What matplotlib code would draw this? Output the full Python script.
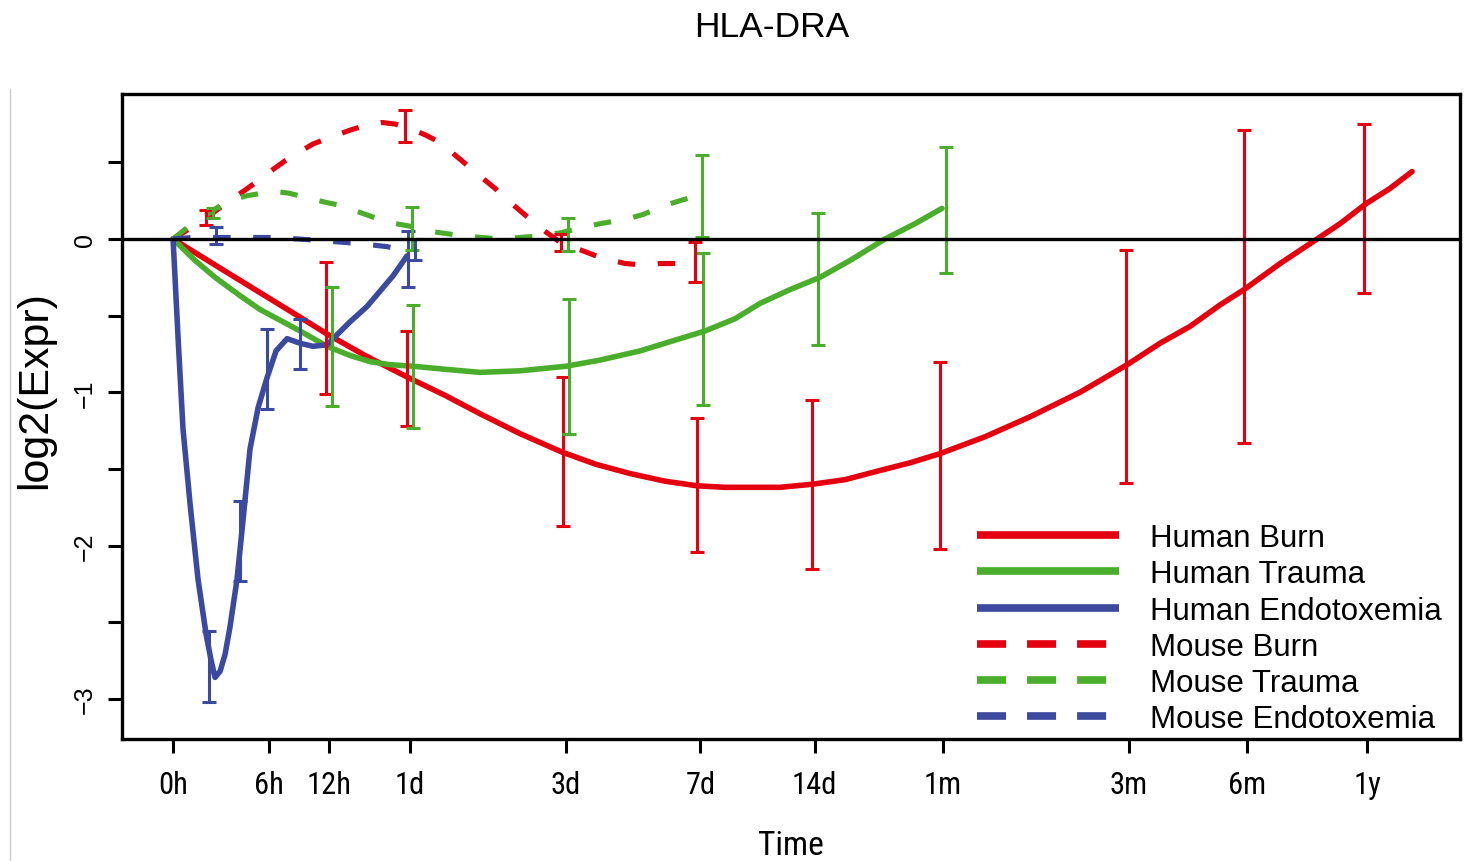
import numpy as np
import matplotlib
matplotlib.use('Agg')
import matplotlib.pyplot as plt
from matplotlib.lines import Line2D
from matplotlib.transforms import offset_copy

# x axis: time in hours, drawn on a log(1 + h/8) scale
tick_hours = [0, 6, 12, 24, 72, 168, 336, 720, 2160, 4320, 8760]
tick_labels = ['0h', '6h', '12h', '1d', '3d', '7d', '14d', '1m', '3m', '6m', '1y']

#fitted curves (hours, log2 expr)
hb_t = [0, 2.54, 5.32, 8.84, 11.73, 16.65, 23.53, 31.40, 40.37, 53.16, 70.2, 87.47, 108.5, 135.1, 164.6,
        195.4, 227.5, 272.8, 330.6, 402.9, 496.6, 593.5, 709.2, 925.6, 1207, 1621, 2139, 2597, 3097,
        3694, 4254, 5255, 6270, 7473, 8700, 10019, 11400]
hb_y = [0, -0.19, -0.35, -0.51, -0.62, -0.76, -0.90, -1.02, -1.14, -1.27, -1.39, -1.47, -1.53, -1.58, -1.61,
        -1.62, -1.62, -1.62, -1.60, -1.57, -1.51, -1.46, -1.40, -1.29, -1.16, -1.00, -0.82, -0.68, -0.57,
        -0.43, -0.33, -0.16, -0.03, 0.10, 0.23, 0.33, 0.44]

ht_t = [0, 1.10, 2.23, 3.85, 5.32, 6.98, 8.84, 11.73, 14.58, 17.38, 20.54, 24.66, 31.40, 40.37, 53.16,
        72.09, 89.74, 115.6, 139.3, 172.9, 207.7, 241.7, 289.7, 346.9, 415.2, 511.5, 611.5, 717.6]
ht_y = [0, -0.14, -0.25, -0.37, -0.46, -0.53, -0.60, -0.70, -0.76, -0.80, -0.82, -0.83, -0.85, -0.87, -0.86,
        -0.83, -0.79, -0.73, -0.67, -0.60, -0.52, -0.42, -0.33, -0.25, -0.14, 0.0, 0.10, 0.20]

he_t = [0, 0.24, 0.48, 0.84, 1.26, 1.71, 2.00, 2.23, 2.54, 2.85, 3.17, 3.64, 4.06, 4.56, 5.17, 5.86, 6.63,
        7.61, 8.84, 10.17, 11.73, 12.44, 14.58, 16.94, 18.92, 21.05, 23.53]
he_y = [0, -0.65, -1.24, -1.73, -2.22, -2.58, -2.75, -2.86, -2.82, -2.71, -2.53, -2.22, -1.83, -1.37, -1.10,
        -0.91, -0.73, -0.65, -0.68, -0.70, -0.69, -0.65, -0.54, -0.44, -0.34, -0.24, -0.11]

mb_t = [0, 0.84, 1.76, 2.85, 4.06, 5.17, 6.13, 7.42, 8.84, 10.17, 12.44, 14.58, 16.65, 19.24, 21.39, 24.09,
        27.04, 30.27, 35.03, 40.37, 44.82, 49.68, 56.10, 62.81, 70.2, 78.93, 89.74, 105.2, 119.2, 130.9,
        148.3, 162.6]
mb_y = [0, 0.07, 0.14, 0.23, 0.31, 0.38, 0.44, 0.51, 0.57, 0.62, 0.67, 0.71, 0.74, 0.76, 0.75, 0.72,
        0.68, 0.63, 0.52, 0.41, 0.33, 0.24, 0.14, 0.05, -0.03, -0.07, -0.12, -0.16, -0.17, -0.16,
        -0.16, -0.14]

mt_t = [0, 0.84, 1.76, 2.72, 4.20, 5.56, 6.55, 7.70, 9.55, 11.50, 13.29, 17.38, 20.05, 24.66, 28.08, 35.79,
        46.39, 53.16, 60.76, 69.33, 78.93, 89.74, 106.5, 117.8, 135.1, 152.9, 168]
mt_y = [0, 0.09, 0.16, 0.23, 0.28, 0.30, 0.31, 0.30, 0.27, 0.24, 0.22, 0.15, 0.11, 0.08, 0.05, 0.02,
        0.0, 0.01, 0.02, 0.04, 0.07, 0.10, 0.13, 0.16, 0.22, 0.26, 0.29]

me_t = [0, 0.94, 3.30, 6.72, 10.94, 15.94, 20.05, 23.91]
me_y = [0, 0.01, 0.01, 0.01, -0.01, -0.03, -0.05, -0.08]

#error bars: time, mean, half width
hb_bt = [12, 24, 72, 168, 336, 720, 2160, 4320, 8760]
hb_bm = [-0.58, -0.91, -1.385, -1.605, -1.60, -1.41, -0.83, -0.31, 0.20]
hb_be = [0.43, 0.31, 0.485, 0.435, 0.55, 0.61, 0.76, 1.02, 0.55]

ht_bt = [12, 24, 72, 168, 336, 720]
ht_bm = [-0.70, -0.83, -0.83, -0.585, -0.26, 0.19]
ht_be = [0.39, 0.40, 0.44, 0.495, 0.43, 0.41]

he_bt = [2, 4, 6, 9, 24]
he_bm = [-2.79, -1.97, -0.85, -0.685, -0.13]
he_be = [0.23, 0.26, 0.26, 0.165, 0.18]

mb_bt = [2, 24, 72, 168]
mb_bm = [0.14, 0.735, -0.025, -0.15]
mb_be = [0.05, 0.105, 0.055, 0.13]

mt_bt = [2, 24, 72, 168]
mt_bm = [0.17, 0.07, 0.03, 0.28]
mt_be = [0.03, 0.14, 0.11, 0.27]

me_bt = [2, 24]
me_bm = [0.025, -0.07]
me_be = [0.055, 0.07]

RED = '#E5000F'
GREEN = '#4AAE2C'
BLUE = '#3B4A9E'

series = [
    ('Human Burn', hb_t, hb_y, hb_bt, hb_bm, hb_be, RED, '-', -3),
    ('Human Trauma', ht_t, ht_y, ht_bt, ht_bm, ht_be, GREEN, '-', 3),
    ('Human Endotoxemia', he_t, he_y, he_bt, he_bm, he_be, BLUE, '-', -2),
    ('Mouse Burn', mb_t, mb_y, mb_bt, mb_bm, mb_be, RED, '--', -5),
    ('Mouse Trauma', mt_t, mt_y, mt_bt, mt_bm, mt_be, GREEN, '--', 2),
    ('Mouse Endotoxemia', me_t, me_y, me_bt, me_bm, me_be, BLUE, '--', 5),
]

def fwd(h):
    h = np.asarray(h, dtype=float)
    return np.log1p(np.clip(h, -7.99, None) / 8.0)

def inv(u):
    return 8.0 * np.expm1(np.asarray(u, dtype=float))

narrow = ['Roboto Condensed', 'DejaVu Sans']
arial = ['Liberation Sans', 'DejaVu Sans']

fig = plt.figure(figsize=(14.68, 8.62), dpi=100)
ax = fig.add_axes([0.0831, 0.1415, 0.9115, 0.7483])
ax.set_xscale('function', functions=(fwd, inv))

for name, t, y, bt, bm, be, col, ls, dx in series:
    if ls == '-':
        ax.plot(t, y, color=col, lw=4.0, solid_capstyle='round', solid_joinstyle='round', zorder=3)
    else:
        ax.plot(t, y, color=col, lw=3.7, dashes=(3.4, 4.4), zorder=3)
    tr = offset_copy(ax.transData, fig=fig, x=dx, y=0, units='dots')
    ax.errorbar(bt, bm, yerr=be, fmt='none', ecolor=col, elinewidth=2.2,
                capsize=5, capthick=2.2, transform=tr, zorder=4)

ax.axhline(0, color='black', lw=2.4, zorder=5)

ax.set_xlim(-2.07, 15110)
ax.set_ylim(-3.262, 0.946)

ax.set_xticks(tick_hours)
ax.set_xticklabels(tick_labels, family=narrow, fontstretch='condensed', fontsize=22)
ax.xaxis.set_minor_locator(matplotlib.ticker.NullLocator())
ax.set_yticks([-3, -2, -1, 0])
ax.set_yticklabels(['\u22123', '\u22122', '\u22121', '0'], rotation=90, va='center',
                   family=arial, fontsize=18)
ax.set_yticks([-2.5, -1.5, -0.5, 0.5], minor=True)
ax.tick_params(axis='both', which='both', direction='out', length=10, width=2.2)
ax.tick_params(axis='x', pad=12)
ax.tick_params(axis='y', pad=8)
for s in ax.spines.values():
    s.set_linewidth(2.4)

ax.set_ylabel('log2(Expr)', family=arial, fontsize=31)
ax.yaxis.set_label_coords(-0.050, 0.543)
ax.set_xlabel('Time', family=narrow, fontstretch='condensed', fontsize=24, labelpad=22)
fig.suptitle('HLA-DRA', family=arial, fontsize=25.5, x=0.526, y=0.987)

handles = []
for name, t, y, bt, bm, be, col, ls, dx in series:
    if ls == '-':
        h = Line2D([], [], color=col, lw=5.5, solid_capstyle='butt')
    else:
        h = Line2D([], [], color=col, lw=5.5, dashes=(3.8, 2.75), dash_capstyle='butt')
    handles.append(h)
leg = ax.legend(handles, [s[0] for s in series], loc='lower right',
                bbox_to_anchor=(0.998, -0.017), frameon=False, prop={'family': arial, 'size': 22.5},
                handlelength=4.55, handletextpad=1.0, labelspacing=0.2, borderpad=0.0)

# thin grey edge from the screenshot
fig.add_artist(Line2D([10 / 1468, 10 / 1468], [0, 1 - 90 / 862], transform=fig.transFigure,
                      color='#cccccc', lw=1))

fig.savefig('out.png', dpi=100)
